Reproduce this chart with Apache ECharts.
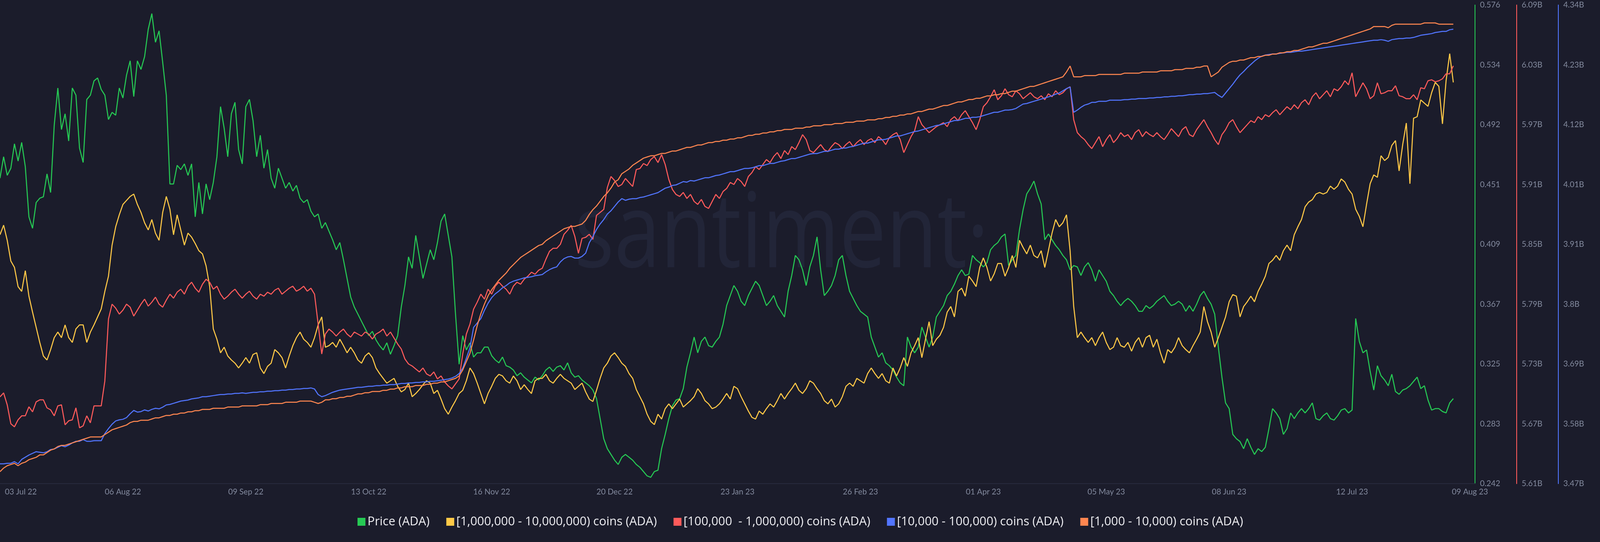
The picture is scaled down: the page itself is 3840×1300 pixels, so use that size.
<!DOCTYPE html>
<html>
<head>
<meta charset="utf-8">
<script src="https://cdn.jsdelivr.net/npm/echarts@6/dist/echarts.min.js"></script>
<style>
html,body{margin:0;padding:0;background:#1b1c2b;}
#c{width:3840px;height:1300px;}
</style>
</head>
<body>
<div id="c"></div>
<script>
// ---------- DATA ----------
const startDate = [2022, 6, 3];      // 03 Jul 2022 (UTC, month 0-based)
const dayCount = 403;                // 03 Jul 22 .. 09 Aug 23
const padDays = 6;                   // empty days after last point
const labelEvery = 34;               // days between x labels

const seriesNames = [
  'Price (ADA)',
  '[1,000,000 - 10,000,000) coins (ADA)',
  '[100,000  - 1,000,000) coins (ADA)',
  '[10,000 - 100,000) coins (ADA)',
  '[1,000 - 10,000) coins (ADA)'
];

const priceAxis = { min: 0.2416, max: 0.576, interval: 0.0418 };
const redAxis = { min: 5.61, max: 6.09, interval: 0.06 };
const blueAxis = { min: 3.47, max: 4.34, interval: 0.10875 };
const yellowAxis = { min: 7.00, max: 7.60 };
const orangeAxis = { min: 1.70, max: 2.10 };

const price = [
0.455,0.470,0.457,0.462,0.479,0.467,0.480,0.463,0.428,0.420,
0.438,0.441,0.442,0.458,0.445,0.492,0.518,0.489,0.500,0.481,
0.518,0.513,0.476,0.466,0.510,0.513,0.523,0.525,0.517,0.513,
0.496,0.501,0.499,0.518,0.511,0.527,0.537,0.512,0.537,0.531,
0.540,0.559,0.570,0.550,0.558,0.536,0.513,0.451,0.451,0.464,
0.461,0.465,0.457,0.465,0.428,0.452,0.430,0.451,0.440,0.452,
0.470,0.505,0.490,0.470,0.500,0.508,0.475,0.465,0.505,0.510,
0.495,0.470,0.485,0.462,0.475,0.455,0.448,0.462,0.455,0.448,
0.452,0.446,0.450,0.441,0.438,0.440,0.432,0.428,0.430,0.420,
0.424,0.418,0.412,0.405,0.410,0.398,0.385,0.372,0.365,0.360,
0.355,0.350,0.345,0.348,0.342,0.338,0.335,0.340,0.332,0.338,
0.345,0.365,0.380,0.400,0.392,0.415,0.400,0.385,0.395,0.405,
0.398,0.410,0.425,0.430,0.415,0.400,0.360,0.325,0.345,0.335,
0.340,0.330,0.333,0.333,0.337,0.337,0.331,0.328,0.326,0.330,
0.324,0.323,0.321,0.317,0.319,0.316,0.314,0.312,0.316,0.314,
0.317,0.321,0.323,0.320,0.323,0.324,0.321,0.326,0.319,0.316,
0.317,0.314,0.312,0.310,0.307,0.301,0.287,0.273,0.266,0.262,
0.258,0.255,0.260,0.262,0.260,0.258,0.255,0.253,0.250,0.247,
0.246,0.250,0.251,0.266,0.276,0.287,0.296,0.300,0.301,0.308,
0.323,0.333,0.344,0.333,0.341,0.344,0.338,0.337,0.341,0.344,
0.353,0.366,0.373,0.380,0.376,0.369,0.366,0.373,0.378,0.383,
0.380,0.373,0.366,0.369,0.373,0.366,0.362,0.358,0.376,0.387,
0.401,0.398,0.391,0.380,0.393,0.401,0.414,0.391,0.373,0.376,
0.380,0.387,0.398,0.401,0.387,0.376,0.371,0.366,0.362,0.360,
0.358,0.344,0.337,0.330,0.333,0.326,0.324,0.321,0.316,0.312,
0.310,0.344,0.337,0.333,0.337,0.351,0.344,0.337,0.344,0.358,
0.362,0.366,0.373,0.376,0.381,0.387,0.391,0.387,0.388,0.401,
0.398,0.396,0.393,0.396,0.405,0.408,0.410,0.414,0.416,0.394,
0.398,0.401,0.419,0.433,0.444,0.448,0.453,0.444,0.437,0.412,
0.416,0.412,0.408,0.405,0.401,0.398,0.391,0.394,0.393,0.387,
0.393,0.396,0.391,0.383,0.391,0.387,0.383,0.376,0.373,0.369,
0.366,0.369,0.371,0.369,0.366,0.362,0.362,0.366,0.364,0.366,
0.369,0.371,0.373,0.369,0.366,0.367,0.369,0.367,0.362,0.366,
0.362,0.367,0.373,0.376,0.371,0.367,0.360,0.337,0.316,0.298,
0.294,0.276,0.273,0.271,0.266,0.273,0.267,0.262,0.266,0.264,
0.267,0.280,0.294,0.291,0.287,0.276,0.280,0.291,0.287,0.291,
0.294,0.291,0.294,0.298,0.287,0.286,0.289,0.291,0.287,0.286,
0.289,0.293,0.294,0.291,0.293,0.357,0.341,0.333,0.335,0.320,
0.307,0.324,0.317,0.314,0.310,0.318,0.306,0.304,0.307,0.308,
0.310,0.313,0.316,0.308,0.310,0.300,0.293,0.294,0.294,0.292,
0.291,0.298,0.301
];

const yellow = [
7.312,7.324,7.305,7.279,7.271,7.247,7.241,7.267,7.235,7.215,
7.196,7.177,7.160,7.155,7.168,7.183,7.190,7.183,7.199,7.183,
7.177,7.194,7.199,7.199,7.177,7.190,7.199,7.209,7.219,7.241,
7.260,7.299,7.322,7.337,7.350,7.355,7.360,7.363,7.350,7.340,
7.327,7.318,7.331,7.314,7.305,7.340,7.360,7.344,7.312,7.337,
7.318,7.299,7.314,7.309,7.301,7.292,7.288,7.273,7.247,7.194,
7.181,7.164,7.171,7.160,7.155,7.151,7.145,7.151,7.158,7.151,
7.162,7.164,7.145,7.138,7.147,7.151,7.168,7.164,7.158,7.145,
7.160,7.173,7.183,7.190,7.181,7.177,7.171,7.183,7.199,7.209,
7.171,7.173,7.177,7.171,7.181,7.173,7.164,7.171,7.164,7.155,
7.151,7.160,7.164,7.158,7.145,7.138,7.132,7.126,7.129,7.132,
7.122,7.115,7.118,7.126,7.109,7.113,7.118,7.124,7.129,7.126,
7.113,7.117,7.106,7.094,7.087,7.096,7.104,7.113,7.117,7.129,
7.145,7.138,7.126,7.113,7.100,7.113,7.122,7.132,7.137,7.135,
7.129,7.126,7.135,7.129,7.118,7.124,7.118,7.113,7.129,7.132,
7.132,7.137,7.129,7.126,7.132,7.137,7.132,7.129,7.126,7.118,
7.122,7.126,7.115,7.106,7.103,7.117,7.132,7.145,7.151,7.160,
7.164,7.158,7.151,7.147,7.138,7.132,7.118,7.109,7.100,7.087,
7.078,7.074,7.087,7.081,7.094,7.100,7.094,7.100,7.106,7.096,
7.100,7.104,7.109,7.119,7.113,7.104,7.100,7.094,7.096,7.100,
7.106,7.113,7.106,7.122,7.119,7.109,7.100,7.091,7.083,7.081,
7.091,7.087,7.094,7.100,7.096,7.104,7.113,7.106,7.113,7.119,
7.126,7.117,7.113,7.119,7.129,7.126,7.119,7.113,7.104,7.100,
7.106,7.096,7.100,7.109,7.122,7.126,7.122,7.132,7.129,7.126,
7.138,7.145,7.138,7.132,7.138,7.129,7.126,7.145,7.135,7.145,
7.158,7.147,7.164,7.173,7.183,7.158,7.181,7.203,7.173,7.181,
7.186,7.196,7.215,7.222,7.209,7.241,7.245,7.235,7.260,7.254,
7.247,7.271,7.283,7.271,7.254,7.263,7.276,7.276,7.260,7.271,
7.286,7.271,7.305,7.296,7.288,7.299,7.286,7.283,7.292,7.271,
7.292,7.314,7.331,7.322,7.327,7.337,7.292,7.222,7.183,7.190,
7.183,7.177,7.183,7.173,7.183,7.190,7.177,7.168,7.171,7.183,
7.173,7.171,7.177,7.166,7.177,7.183,7.171,7.183,7.186,7.171,
7.181,7.164,7.151,7.168,7.164,7.171,7.183,7.173,7.168,7.164,
7.173,7.181,7.190,7.222,7.203,7.190,7.171,7.183,7.196,7.209,
7.228,7.237,7.235,7.209,7.222,7.228,7.235,7.228,7.241,7.250,
7.260,7.276,7.280,7.286,7.280,7.292,7.299,7.292,7.312,7.322,
7.331,7.347,7.353,7.356,7.363,7.365,7.363,7.365,7.373,7.369,
7.373,7.382,7.378,7.369,7.363,7.344,7.335,7.322,7.350,7.376,
7.387,7.384,7.411,7.405,7.409,7.424,7.430,7.392,7.425,7.452,
7.376,7.458,7.460,7.481,7.477,7.473,7.490,7.503,7.498,7.451,
7.505,7.539,7.503
];

const red = [
5.697,5.701,5.689,5.670,5.667,5.674,5.678,5.678,5.687,5.682,
5.692,5.694,5.694,5.686,5.684,5.678,5.688,5.689,5.669,5.673,
5.674,5.686,5.666,5.668,5.678,5.671,5.688,5.688,5.688,5.713,
5.775,5.790,5.786,5.780,5.784,5.790,5.787,5.778,5.784,5.790,
5.795,5.788,5.792,5.797,5.790,5.787,5.794,5.800,5.796,5.802,
5.805,5.800,5.808,5.812,5.806,5.802,5.810,5.815,5.812,5.805,
5.808,5.800,5.795,5.798,5.802,5.805,5.800,5.796,5.800,5.803,
5.798,5.795,5.800,5.798,5.802,5.800,5.804,5.806,5.800,5.803,
5.806,5.808,5.803,5.805,5.808,5.803,5.806,5.800,5.770,5.740,
5.760,5.765,5.762,5.758,5.762,5.765,5.760,5.757,5.762,5.760,
5.758,5.762,5.760,5.755,5.760,5.762,5.765,5.758,5.762,5.756,
5.750,5.745,5.735,5.730,5.728,5.725,5.722,5.726,5.720,5.718,
5.722,5.715,5.718,5.712,5.708,5.705,5.710,5.715,5.740,5.760,
5.770,5.785,5.792,5.800,5.795,5.805,5.800,5.808,5.812,5.808,
5.805,5.800,5.808,5.812,5.810,5.815,5.818,5.822,5.820,5.824,
5.826,5.835,5.843,5.846,5.846,5.850,5.860,5.864,5.869,5.858,
5.841,5.856,5.857,5.860,5.855,5.879,5.882,5.885,5.907,5.918,
5.914,5.908,5.910,5.916,5.912,5.908,5.925,5.926,5.931,5.929,
5.935,5.938,5.932,5.940,5.930,5.915,5.905,5.900,5.898,5.902,
5.896,5.900,5.893,5.890,5.895,5.888,5.886,5.893,5.900,5.896,
5.903,5.906,5.912,5.910,5.916,5.913,5.908,5.918,5.922,5.928,
5.925,5.930,5.935,5.932,5.938,5.942,5.936,5.944,5.940,5.948,
5.945,5.952,5.960,5.955,5.944,5.942,5.946,5.950,5.945,5.943,
5.948,5.952,5.950,5.946,5.950,5.953,5.948,5.952,5.955,5.950,
5.954,5.956,5.952,5.958,5.955,5.950,5.957,5.960,5.962,5.955,
5.942,5.950,5.958,5.964,5.978,5.970,5.966,5.962,5.965,5.968,
5.970,5.972,5.968,5.975,5.978,5.974,5.980,5.984,5.978,5.972,
5.965,5.975,5.988,5.992,5.998,6.005,5.995,5.999,6.006,6.000,
5.998,6.004,6.001,5.996,5.999,6.002,5.998,5.996,5.999,5.995,
6.001,5.998,6.004,6.000,6.002,6.006,6.008,5.975,5.962,5.958,
5.955,5.950,5.946,5.952,5.958,5.948,5.955,5.960,5.952,5.956,
5.962,5.958,5.960,5.955,5.962,5.965,5.958,5.963,5.960,5.958,
5.962,5.958,5.955,5.960,5.966,5.962,5.958,5.965,5.968,5.960,
5.958,5.965,5.970,5.975,5.968,5.962,5.955,5.950,5.960,5.965,
5.972,5.975,5.968,5.962,5.966,5.970,5.974,5.972,5.978,5.975,
5.980,5.978,5.982,5.985,5.980,5.984,5.988,5.985,5.990,5.986,
5.992,5.995,5.990,5.998,6.002,5.996,6.000,6.004,5.998,6.006,
6.004,6.008,6.014,6.010,6.022,5.998,6.005,6.012,6.006,5.996,
5.999,6.012,6.001,6.002,6.004,6.004,6.009,5.999,5.998,5.996,
5.996,6.000,5.995,6.007,6.006,6.014,6.015,6.013,6.014,6.016,
6.021,6.021,6.029
];

const blue = [
3.506,3.506,3.507,3.507,3.510,3.506,3.514,3.518,3.522,3.525,
3.528,3.527,3.526,3.528,3.532,3.533,3.536,3.539,3.537,3.540,
3.544,3.547,3.547,3.550,3.547,3.547,3.548,3.548,3.548,3.561,
3.570,3.578,3.584,3.586,3.587,3.590,3.597,3.603,3.600,3.601,
3.604,3.602,3.605,3.607,3.606,3.609,3.613,3.614,3.616,3.618,
3.620,3.621,3.622,3.624,3.625,3.626,3.628,3.628,3.629,3.630,
3.631,3.632,3.632,3.633,3.633,3.634,3.634,3.635,3.634,3.635,
3.636,3.636,3.637,3.637,3.638,3.638,3.639,3.639,3.640,3.640,
3.641,3.641,3.642,3.642,3.643,3.643,3.644,3.642,3.632,3.628,
3.630,3.633,3.636,3.638,3.640,3.641,3.642,3.643,3.644,3.645,
3.645,3.646,3.647,3.647,3.648,3.648,3.649,3.649,3.650,3.650,
3.651,3.652,3.652,3.653,3.653,3.654,3.654,3.655,3.655,3.656,
3.656,3.657,3.658,3.659,3.660,3.662,3.665,3.670,3.680,3.698,
3.717,3.754,3.762,3.770,3.785,3.798,3.808,3.815,3.820,3.826,
3.830,3.835,3.838,3.840,3.842,3.844,3.845,3.846,3.848,3.849,
3.850,3.855,3.859,3.862,3.864,3.873,3.879,3.882,3.883,3.880,
3.880,3.883,3.889,3.908,3.919,3.932,3.942,3.950,3.960,3.966,
3.974,3.982,3.988,3.985,3.987,3.988,3.988,3.990,3.991,3.993,
3.995,3.997,3.999,4.003,4.007,4.009,4.012,4.013,4.016,4.019,
4.018,4.021,4.020,4.022,4.024,4.026,4.026,4.028,4.030,4.031,
4.033,4.035,4.037,4.037,4.039,4.041,4.043,4.043,4.044,4.046,
4.048,4.048,4.050,4.052,4.052,4.054,4.056,4.057,4.059,4.061,
4.061,4.063,4.065,4.067,4.069,4.070,4.070,4.072,4.074,4.074,
4.076,4.078,4.078,4.080,4.080,4.082,4.083,4.085,4.087,4.089,
4.089,4.091,4.093,4.095,4.095,4.096,4.098,4.100,4.102,4.102,
4.104,4.106,4.108,4.110,4.111,4.113,4.115,4.117,4.119,4.121,
4.122,4.124,4.126,4.128,4.130,4.130,4.132,4.134,4.134,4.136,
4.136,4.137,4.139,4.141,4.143,4.145,4.145,4.147,4.149,4.149,
4.150,4.152,4.156,4.160,4.161,4.163,4.165,4.167,4.169,4.171,
4.173,4.175,4.178,4.180,4.184,4.188,4.191,4.145,4.149,4.154,
4.158,4.160,4.163,4.163,4.165,4.165,4.165,4.167,4.167,4.167,
4.167,4.168,4.168,4.169,4.169,4.170,4.170,4.170,4.171,4.171,
4.172,4.172,4.173,4.173,4.174,4.174,4.175,4.175,4.176,4.177,
4.177,4.178,4.178,4.179,4.179,4.180,4.181,4.176,4.172,4.180,
4.188,4.196,4.205,4.213,4.219,4.226,4.232,4.238,4.243,4.247,
4.249,4.250,4.251,4.251,4.252,4.253,4.254,4.254,4.255,4.256,
4.256,4.257,4.258,4.259,4.260,4.261,4.262,4.263,4.264,4.265,
4.266,4.267,4.268,4.269,4.270,4.271,4.272,4.273,4.274,4.275,
4.276,4.276,4.277,4.276,4.274,4.277,4.278,4.279,4.279,4.280,
4.280,4.281,4.283,4.285,4.286,4.287,4.288,4.290,4.291,4.292,
4.292,4.295,4.296
];

const orange = [
1.710,1.713,1.715,1.716,1.717,1.715,1.717,1.718,1.720,1.721,
1.722,1.724,1.724,1.726,1.728,1.729,1.731,1.732,1.732,1.733,
1.734,1.735,1.736,1.737,1.738,1.739,1.739,1.739,1.739,1.741,
1.743,1.745,1.746,1.747,1.748,1.749,1.751,1.752,1.752,1.753,
1.753,1.753,1.754,1.755,1.755,1.756,1.757,1.757,1.758,1.758,
1.759,1.759,1.760,1.760,1.761,1.761,1.762,1.762,1.762,1.763,
1.763,1.763,1.763,1.764,1.764,1.764,1.764,1.765,1.765,1.765,
1.765,1.765,1.766,1.766,1.766,1.767,1.767,1.767,1.767,1.768,
1.768,1.768,1.768,1.769,1.769,1.769,1.769,1.768,1.767,1.768,
1.770,1.770,1.771,1.771,1.772,1.772,1.773,1.773,1.774,1.775,
1.775,1.776,1.776,1.777,1.777,1.777,1.778,1.778,1.779,1.779,
1.780,1.780,1.781,1.781,1.781,1.782,1.782,1.782,1.783,1.783,
1.784,1.784,1.785,1.785,1.786,1.787,1.788,1.790,1.795,1.802,
1.809,1.820,1.832,1.842,1.850,1.857,1.862,1.866,1.870,1.873,
1.876,1.880,1.883,1.886,1.889,1.891,1.893,1.895,1.897,1.899,
1.900,1.903,1.905,1.907,1.909,1.911,1.913,1.914,1.915,1.915,
1.916,1.917,1.920,1.925,1.929,1.932,1.936,1.940,1.943,1.947,
1.952,1.954,1.959,1.961,1.963,1.966,1.968,1.970,1.972,1.973,
1.974,1.974,1.975,1.976,1.976,1.977,1.978,1.978,1.979,1.980,
1.981,1.981,1.982,1.983,1.983,1.984,1.985,1.985,1.986,1.986,
1.987,1.987,1.988,1.988,1.989,1.989,1.990,1.991,1.991,1.992,
1.992,1.993,1.993,1.994,1.994,1.995,1.995,1.996,1.996,1.996,
1.997,1.997,1.997,1.998,1.998,1.999,1.999,1.999,2.000,2.000,
2.000,2.001,2.001,2.001,2.002,2.002,2.002,2.003,2.003,2.003,
2.004,2.004,2.004,2.005,2.005,2.006,2.006,2.007,2.007,2.008,
2.008,2.009,2.009,2.010,2.011,2.011,2.012,2.013,2.013,2.014,
2.015,2.016,2.016,2.017,2.018,2.019,2.019,2.020,2.021,2.021,
2.022,2.022,2.023,2.024,2.024,2.025,2.025,2.026,2.026,2.027,
2.028,2.028,2.029,2.030,2.031,2.032,2.032,2.033,2.034,2.035,
2.036,2.037,2.038,2.039,2.040,2.044,2.049,2.040,2.040,2.040,
2.041,2.041,2.041,2.041,2.042,2.042,2.042,2.042,2.042,2.042,
2.042,2.043,2.043,2.043,2.043,2.043,2.044,2.044,2.044,2.044,
2.044,2.045,2.045,2.045,2.045,2.046,2.046,2.046,2.047,2.047,
2.047,2.048,2.048,2.049,2.049,2.040,2.042,2.044,2.048,2.050,
2.052,2.053,2.053,2.054,2.054,2.055,2.056,2.056,2.057,2.057,
2.058,2.058,2.059,2.059,2.060,2.060,2.061,2.061,2.062,2.062,
2.063,2.064,2.065,2.065,2.066,2.067,2.068,2.068,2.069,2.070,
2.071,2.072,2.073,2.074,2.075,2.076,2.077,2.078,2.079,2.080,
2.082,2.082,2.082,2.082,2.081,2.083,2.084,2.084,2.084,2.084,
2.084,2.084,2.084,2.084,2.085,2.085,2.085,2.085,2.084,2.084,
2.084,2.084,2.084
];

// ---------- CHECK ----------
[['price', price], ['yellow', yellow], ['red', red], ['blue', blue], ['orange', orange]].forEach(function (p) {
  if (p[1].length !== dayCount) throw new Error(p[0] + ' has ' + p[1].length + ' values');
});

// ---------- BUILD ----------
const MONTHS = ['Jan','Feb','Mar','Apr','May','Jun','Jul','Aug','Sep','Oct','Nov','Dec'];
const dates = [];
for (let i = 0; i < dayCount + padDays; i++) {
  const d = new Date(Date.UTC(startDate[0], startDate[1], startDate[2] + i));
  dates.push(String(d.getUTCDate()).padStart(2, '0') + ' ' + MONTHS[d.getUTCMonth()] + ' ' + String(d.getUTCFullYear()).slice(2));
}
const lastIdx = dayCount - 1;

const GREEN = '#26c954', YELLOW = '#ffc947', RED = '#ff5b5b', BLUE = '#5275ff', ORANGE = '#ff8650';
const colors = [GREEN, YELLOW, RED, BLUE, ORANGE];
const FONT = 'Lato, "Noto Sans", sans-serif';
const LEGEND_FONT = '"Open Sans", "Noto Sans", sans-serif';
const LABEL = '#838a9e';

function fmtB(v) { return (Math.round(v * 100 + 1e-6) / 100) + 'B'; }

function pointer(value, color, fmt) {
  return {
    show: true, type: 'line', value: value, status: 'show', snap: false,
    triggerTooltip: false, triggerEmphasis: false,
    lineStyle: { opacity: 0, width: 0 },
    handle: { show: false },
    label: {
      show: true, backgroundColor: color, color: '#ffffff', fontFamily: FONT,
      fontSize: 19, padding: [4, 8, 3, 8], margin: 6, borderRadius: 0,
      formatter: function (p) { return fmt(p.value); }
    }
  };
}

function rightAxis(cfg, color, offset, fmt, last) {
  return {
    type: 'value', position: 'right', offset: offset,
    min: cfg.min, max: cfg.max, interval: cfg.interval,
    axisLine: { show: true, lineStyle: { color: color, width: 2 } },
    axisTick: { show: false },
    splitLine: { show: false },
    axisLabel: { color: LABEL, fontSize: 19, fontFamily: FONT, margin: 12, formatter: fmt },
    axisPointer: pointer(last, color, fmt)
  };
}

const seriesData = [price, yellow, red, blue, orange];
const yIdx = [0, 3, 1, 2, 4];

const option = {
  backgroundColor: '#1b1c2b',
  animation: false,
  textStyle: { fontFamily: FONT },
  grid: { left: 0, right: 300, top: 12, bottom: 140, containLabel: false },
  graphic: [{
    type: 'text', x: 1876, y: 570, z: 0, silent: true, scaleX: 0.8,
    style: {
      text: 'santiment\u00b7',
      fontSize: 250,
      fontFamily: '"Open Sans", "Noto Sans", sans-serif',
      fill: '#222538', align: 'center', verticalAlign: 'middle'
    }
  }],
  legend: {
    left: 853, top: 1232, icon: 'rect', itemWidth: 19, itemHeight: 19, itemGap: 40,
    textStyle: { color: '#eeeef2', fontSize: 29, fontFamily: LEGEND_FONT },
    data: seriesNames
  },
  xAxis: {
    type: 'category', data: dates, boundaryGap: false,
    axisLine: { show: true, lineStyle: { color: '#272a3d', width: 2 } },
    axisTick: { show: false },
    splitLine: { show: false },
    axisLabel: {
      color: LABEL, fontSize: 19, fontFamily: FONT, margin: 10,
      interval: function (i) { return (i % labelEvery === 0 && i < lastIdx) || i === lastIdx; },
      formatter: function (v, i) {
        if (i === 0) return '{l|' + v + '}';
        if (i === lastIdx) return '{r|' + v + '}';
        return v;
      },
      rich: {
        l: { color: LABEL, fontSize: 19, fontFamily: FONT, padding: [0, 0, 0, 100] },
        r: { color: LABEL, fontSize: 19, fontFamily: FONT, padding: [0, 0, 0, 80] }
      }
    }
  },
  yAxis: [
    rightAxis(priceAxis, GREEN, 0, function (v) { return v.toFixed(3); }, price[lastIdx]),
    rightAxis(redAxis, RED, 100, fmtB, red[lastIdx]),
    rightAxis(blueAxis, BLUE, 200, fmtB, blue[lastIdx]),
    { type: 'value', show: false, min: yellowAxis.min, max: yellowAxis.max, splitLine: { show: false } },
    { type: 'value', show: false, min: orangeAxis.min, max: orangeAxis.max, splitLine: { show: false } }
  ],
  series: seriesNames.map(function (name, k) {
    return {
      name: name, type: 'line', data: seriesData[k], yAxisIndex: yIdx[k],
      showSymbol: false, symbol: 'none', smooth: false,
      lineStyle: { width: 2.5, color: colors[k] },
      itemStyle: { color: colors[k] },
      emphasis: { disabled: true }
    };
  })
};

const chart = echarts.init(document.getElementById('c'), null, { renderer: 'canvas' });
chart.setOption(option);
</script>
</body>
</html>
